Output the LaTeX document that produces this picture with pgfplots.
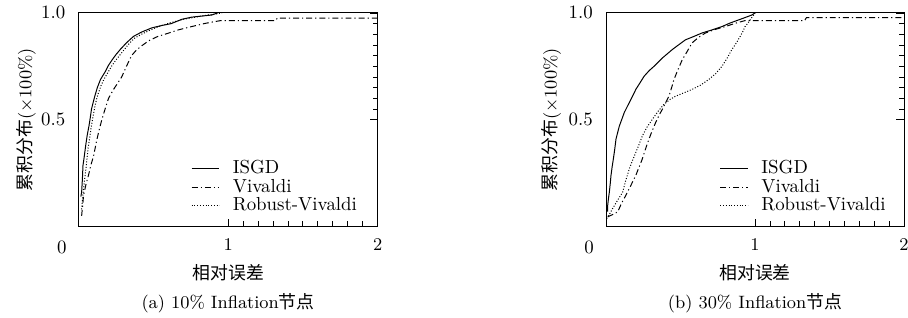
\documentclass[border=0pt]{standalone}
\usepackage{fontspec}
\usepackage{pgfplots}
\pgfplotsset{compat=1.18}
\newfontfamily\cjk{Noto Sans CJK SC}
\begin{document}
\fontsize{9}{10}\selectfont
\pgfplotsset{
  cdfax/.style={
    scale only axis, width=150.5pt, height=107.5pt,
    xmin=0, xmax=2, ymin=0, ymax=1,
    xtick={1,2}, ytick={0.5,1.0},
    yticklabels={0.5,1.0},
    minor x tick num=9, minor y tick num=9,
    xtick pos=left, ytick pos=right, yticklabel pos=left,
    tick align=inside,
    major tick length=4pt, minor tick length=2.5pt,
    tick style={line width=0.4pt,black},
    axis line style={line width=0.5pt},
    xticklabel style={font=\fontsize{9.5}{10}\selectfont, yshift=-3pt},
    yticklabel style={font=\fontsize{9.5}{10}\selectfont, xshift=-3.5pt},
    clip=false,
    legend cell align=left,
    legend style={draw=none, fill=none, font=\fontsize{9.5}{10}\selectfont,
      row sep=-1.6pt, inner sep=0pt,
      nodes={inner sep=1.5pt}},
    legend image code/.code={\draw[##1] (0pt,0pt) -- (14pt,0pt); \path (19pt,0pt);},
  },
  isgd/.style={black, line width=0.5pt},
  viv/.style={black, line width=0.5pt, dash pattern=on 3pt off 1.5pt on 0.6pt off 1.5pt},
  rob/.style={black, line width=0.5pt, dash pattern=on 0.5pt off 0.9pt},
}
\begin{tikzpicture}
\useasboundingbox (0,0) rectangle (454pt,160pt);
% ---------------- (a) ----------------
\begin{axis}[cdfax, at={(36.5pt,46pt)}, anchor=south west,
  legend style={at={(axis cs:0.75,0.045)}, anchor=south west}]
\addplot[isgd] coordinates {
(0.015,0.14)(0.02,0.16)(0.025,0.22)(0.029,0.285)(0.038,0.33)(0.047,0.378)(0.058,0.43)(0.069,0.47)(0.078,0.51)(0.086,0.549)(0.097,0.58)(0.108,0.61)(0.125,0.65)(0.146,0.688)(0.165,0.71)(0.18,0.727)(0.2,0.755)(0.224,0.78)(0.25,0.805)(0.28,0.83)(0.32,0.86)(0.367,0.89)(0.42,0.91)(0.49,0.93)(0.55,0.94)(0.62,0.95)(0.69,0.97)(0.755,0.98)(0.82,0.985)(0.89,0.99)(0.93,1.0)
};
\addlegendentry{ISGD}
\addplot[viv] coordinates {
(0.02,0.05)(0.027,0.10)(0.033,0.146)(0.05,0.20)(0.066,0.24)(0.083,0.29)(0.1,0.33)(0.117,0.39)(0.133,0.44)(0.155,0.50)(0.177,0.55)(0.2,0.60)(0.232,0.64)(0.26,0.67)(0.288,0.70)(0.32,0.75)(0.354,0.80)(0.385,0.825)(0.42,0.845)(0.47,0.87)(0.53,0.89)(0.6,0.905)(0.664,0.92)(0.75,0.935)(0.84,0.95)(0.9,0.958)(0.95,0.964)(1.317,0.964)(1.33,0.976)(2.0,0.976)
};
\addlegendentry{Vivaldi}
\addplot[rob] coordinates {
(0.02,0.08)(0.025,0.12)(0.032,0.17)(0.04,0.22)(0.047,0.26)(0.055,0.31)(0.062,0.36)(0.075,0.42)(0.085,0.47)(0.095,0.51)(0.108,0.56)(0.125,0.61)(0.15,0.66)(0.17,0.69)(0.195,0.72)(0.22,0.75)(0.25,0.78)(0.29,0.815)(0.33,0.85)(0.37,0.88)(0.42,0.90)(0.48,0.92)(0.55,0.94)(0.62,0.955)(0.7,0.97)(0.78,0.98)(0.86,0.99)(0.92,0.995)(0.96,1.0)
};
\addlegendentry{Robust-Vivaldi}
\node[anchor=center, font=\fontsize{9.5}{10}\selectfont] at (rel axis cs:0,0) [xshift=-8.5pt, yshift=-10.5pt] {0};
\node[anchor=center] at (rel axis cs:0,0.5) [xshift=-26.5pt, rotate=90] {{\cjk 累积分布}($\times$100\%)};
\node[anchor=center] at (rel axis cs:0.5,0) [yshift=-23.5pt] {{\cjk 相对误差}};
\node[anchor=center] at (rel axis cs:0.5,0) [yshift=-38.5pt] {(a) 10\% Inflation{\cjk 节点}};
\end{axis}
% ---------------- (b) ----------------
\begin{axis}[cdfax, at={(302pt,46pt)}, anchor=south west, width=150pt,
  legend style={at={(axis cs:0.76,0.045)}, anchor=south west}]
\addplot[isgd] coordinates {
(0.011,0.07)(0.011,0.099)(0.016,0.13)(0.022,0.16)(0.028,0.20)(0.033,0.238)(0.041,0.28)(0.049,0.316)(0.058,0.36)(0.067,0.41)(0.078,0.44)(0.089,0.47)(0.105,0.50)(0.122,0.533)(0.145,0.565)(0.167,0.595)(0.185,0.62)(0.2,0.642)(0.23,0.675)(0.256,0.704)(0.29,0.73)(0.322,0.75)(0.38,0.79)(0.444,0.828)(0.49,0.852)(0.533,0.874)(0.59,0.89)(0.644,0.906)(0.71,0.92)(0.778,0.936)(0.83,0.952)(0.889,0.967)(0.94,0.98)(0.978,0.99)(1.0,1.0)
};
\addlegendentry{ISGD}
\addplot[viv] coordinates {
(0.011,0.045)(0.045,0.056)(0.078,0.068)(0.105,0.11)(0.133,0.146)(0.165,0.19)(0.2,0.24)(0.24,0.31)(0.278,0.39)(0.305,0.44)(0.333,0.487)(0.355,0.52)(0.378,0.549)(0.4,0.58)(0.422,0.61)(0.44,0.65)(0.456,0.688)(0.48,0.73)(0.511,0.78)(0.545,0.82)(0.578,0.86)(0.62,0.885)(0.667,0.906)(0.73,0.922)(0.8,0.936)(0.87,0.952)(0.933,0.964)(0.96,0.964)(1.333,0.964)(1.345,0.978)(2.0,0.978)
};
\addlegendentry{Vivaldi}
\addplot[rob] coordinates {
(0.004,0.037)(0.025,0.06)(0.044,0.084)(0.075,0.12)(0.111,0.16)(0.13,0.21)(0.156,0.27)(0.178,0.31)(0.2,0.347)(0.222,0.385)(0.244,0.425)(0.275,0.465)(0.311,0.502)(0.35,0.54)(0.389,0.572)(0.43,0.595)(0.467,0.61)(0.52,0.625)(0.578,0.642)(0.635,0.662)(0.689,0.688)(0.735,0.715)(0.778,0.75)(0.81,0.785)(0.844,0.828)(0.875,0.86)(0.9,0.89)(0.92,0.915)(0.933,0.936)(0.95,0.95)(0.967,0.967)(0.985,0.985)(1.0,1.0)
};
\addlegendentry{Robust-Vivaldi}
\node[anchor=center, font=\fontsize{9.5}{10}\selectfont] at (rel axis cs:0,0) [xshift=-8.5pt, yshift=-10.5pt] {0};
\node[anchor=center] at (rel axis cs:0,0.5) [xshift=-27.5pt, rotate=90] {{\cjk 累积分布}($\times$100\%)};
\node[anchor=center] at (rel axis cs:0.5,0) [yshift=-23.5pt] {{\cjk 相对误差}};
\node[anchor=center] at (rel axis cs:0.5,0) [yshift=-38.5pt] {(b) 30\% Inflation{\cjk 节点}};
\end{axis}
\end{tikzpicture}
\end{document}
